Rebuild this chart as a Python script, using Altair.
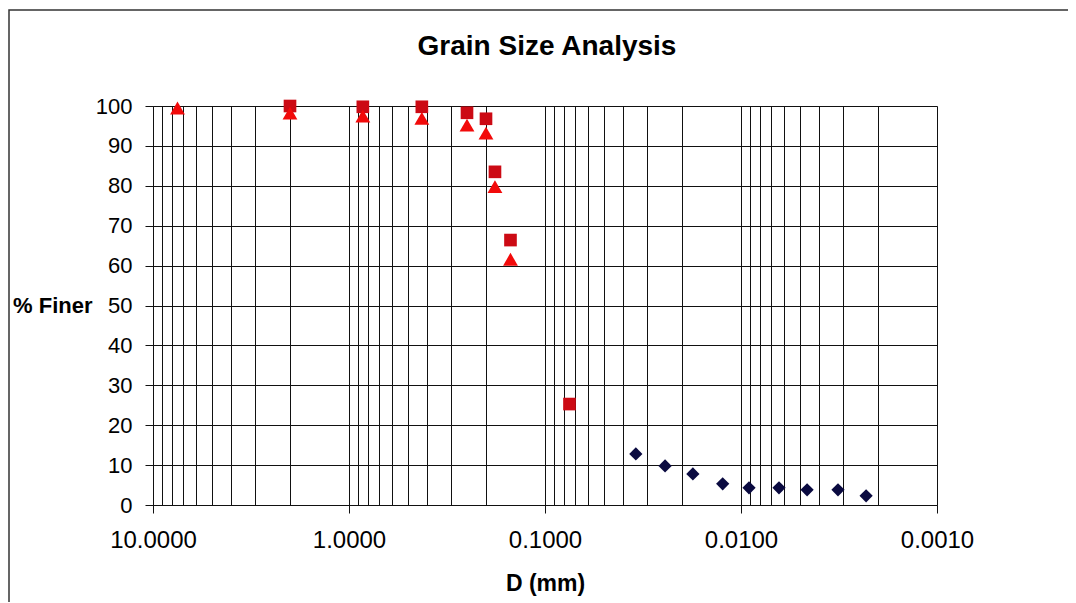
import altair as alt
import pandas as pd

# Red squares series
sq_d = [2.0, 0.85, 0.425, 0.25, 0.2, 0.18, 0.15, 0.075]
sq_p = [100, 99.8, 99.8, 98.3, 96.8, 83.5, 66.4, 25.3]
# Red triangles series
tri_d = [7.5, 2.0, 0.85, 0.425, 0.25, 0.2, 0.18, 0.15]
tri_p = [99.5, 98.2, 97.5, 96.9, 95.2, 93.2, 79.8, 61.6]
# Navy diamonds series
dia_d = [0.0344, 0.0244, 0.0176, 0.0124, 0.0091, 0.0064, 0.0046, 0.0032, 0.0023]
dia_p = [12.8, 9.8, 7.8, 5.3, 4.3, 4.3, 3.8, 3.8, 2.3]

# axis values
x_grid = [10, 9, 8, 7, 6, 5, 4, 3, 2,
          1, 0.9, 0.8, 0.7, 0.6, 0.5, 0.4, 0.3, 0.2,
          0.1, 0.09, 0.08, 0.07, 0.06, 0.05, 0.04, 0.03, 0.02,
          0.01, 0.009, 0.008, 0.007, 0.006, 0.005, 0.004, 0.003, 0.002,
          0.001]
x_labels = [10, 1, 0.1, 0.01, 0.001]
y_ticks = [0, 10, 20, 30, 40, 50, 60, 70, 80, 90, 100]
title_text = ["Grain Size Analysis"]

rows = []
for d, p in zip(sq_d, sq_p):
    rows.append({"D": d, "pct": p, "s": "sq"})
for d, p in zip(tri_d, tri_p):
    rows.append({"D": d, "pct": p, "s": "tri"})
for d, p in zip(dia_d, dia_p):
    rows.append({"D": d, "pct": p, "s": "dia"})
df = pd.DataFrame(rows)

FONT = "Liberation Sans"
test = "indexof([" + ", ".join(str(v) for v in x_labels) + "], datum.value) >= 0"

x_enc = alt.X(
    "D:Q",
    scale=alt.Scale(type="log", domain=[0.001, 10], reverse=True, nice=False),
    axis=alt.Axis(
        values=x_grid,
        labelExpr="(" + test + ") ? format(datum.value, '.4f') : ''",
        title="D (mm)",
        grid=True, gridColor="#111", gridWidth=1,
        domainColor="#111", tickColor="#111", tickSize=8,
        tickOpacity={"condition": {"test": test, "value": 1}, "value": 0},
        labelFont=FONT, labelFontSize=24, labelColor="#000",
        labelPadding=15, labelFlush=False, labelOverlap=False, labelBound=False,
        titleFont=FONT, titleFontSize=23, titleFontWeight="bold", titleColor="#000",
        titlePadding=20,
    ),
)
y_enc = alt.Y(
    "pct:Q",
    scale=alt.Scale(domain=[0, 100], nice=False),
    axis=alt.Axis(
        values=y_ticks,
        title="% Finer",
        titleAngle=0, titleAlign="right", titleBaseline="middle",
        titleX=-61, titleY=199,
        titleFont=FONT, titleFontSize=22, titleFontWeight="bold", titleColor="#000",
        grid=True, gridColor="#111", gridWidth=1,
        domainColor="#111", tickColor="#111", tickSize=8,
        labelFont=FONT, labelFontSize=22, labelColor="#000", labelPadding=13,
    ),
)

base = alt.Chart(df).encode(x=x_enc, y=y_enc)

squares = base.transform_filter("datum.s == 'sq'").mark_point(
    shape="square", filled=True, size=160, color="#CC0A14", opacity=1)
triangles = base.transform_filter("datum.s == 'tri'").mark_point(
    shape="triangle-up", filled=True, size=220, color="#F20A0A", opacity=1)
diamonds = base.transform_filter("datum.s == 'dia'").mark_point(
    shape="diamond", filled=True, size=175, color="#0A0A40", opacity=1)

title = alt.Chart(alt.Data(values=[{"t": t} for t in title_text])).mark_text(
    font=FONT, fontSize=28, fontWeight="bold", color="#000",
    align="center", baseline="middle").encode(
    text="t:N", x=alt.value(394), y=alt.value(-59))

frame = alt.Chart(alt.Data(values=[{"k": 0}])).mark_rect(
    fill=None, stroke="#333", strokeWidth=1.5).encode(
    x=alt.value(-144), x2=alt.value(1100), y=alt.value(-96), y2=alt.value(600))

chart = alt.layer(squares, triangles, diamonds, title, frame).properties(
    width=784, height=399,
    autosize="none",
    padding={"left": 145, "top": 98, "right": 131, "bottom": 97},
).configure_view(stroke="#111", strokeWidth=1).configure(background="white")

chart.save("out.html", embed_options={"renderer": "svg", "actions": False})
